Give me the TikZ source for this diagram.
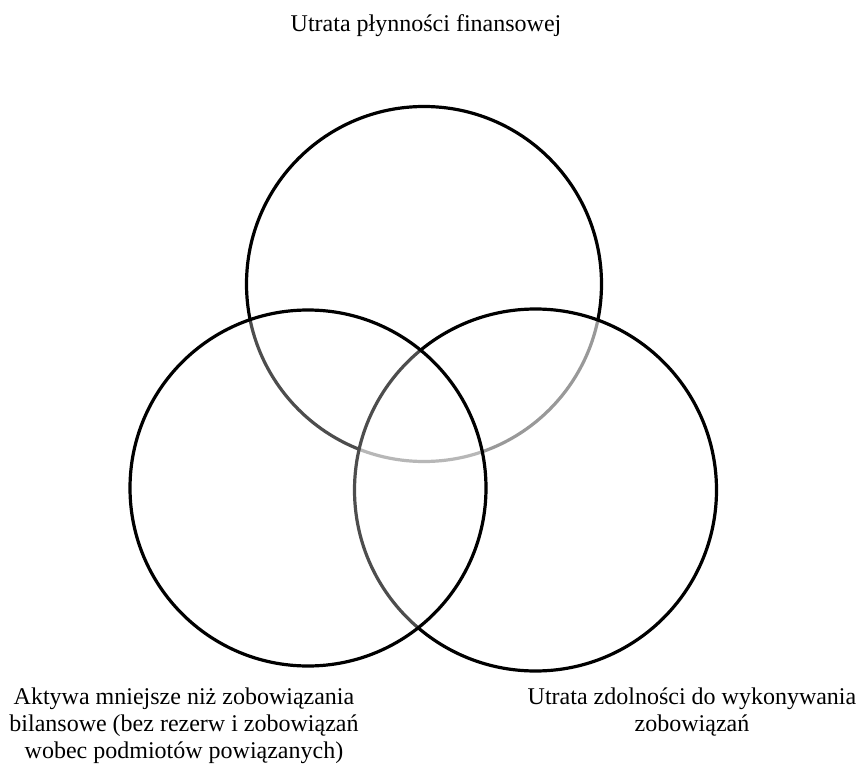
\documentclass[tikz,border=0pt]{standalone}
\usepackage{fontspec}
\setmainfont{Liberation Serif}
\usepackage{tikz}

\begin{document}
\begin{tikzpicture}[x=1pt, y=-1pt,
        ring/.style={circle, draw=black, line width=3.2pt, fill=white, inner sep=0pt, outer sep=0pt},
        caption/.style={align=center, inner sep=0pt, font=\fontsize{24}{27}\selectfont}]
    \useasboundingbox (0,0) rectangle (861,767);
        \node[ring, minimum size=355pt] (plynnosc) at (424,284) {};
        \node[ring, minimum size=362pt, fill opacity=0.6] (zdolnosc) at (535.5,490) {};
        \node[ring, minimum size=356pt, fill opacity=0.3] (aktywa) at (308,488) {};
        \node[caption, anchor=base] (tplynnosc) at (426,32) {Utrata płynności finansowej};
        \node[caption, anchor=north] (taktywa) at (184,688)
            {Aktywa mniejsze niż zobowiązania\\bilansowe (bez rezerw i zobowiązań\\wobec podmiotów powiązanych)};
        \node[caption, anchor=north] (tzdolnosc) at (692,688)
            {Utrata zdolności do wykonywania\\zobowiązań};
    \end{tikzpicture}
\end{document}
